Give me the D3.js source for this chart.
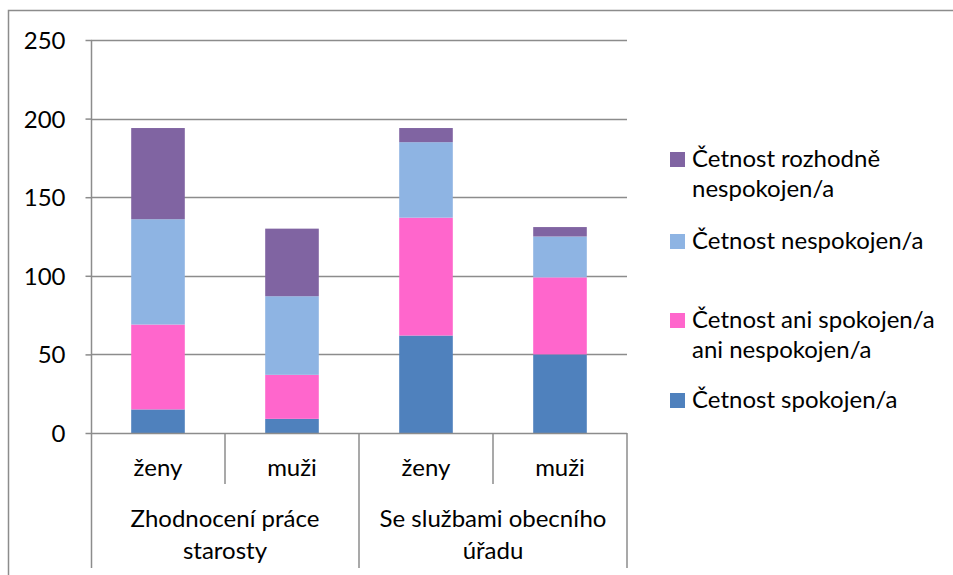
<!DOCTYPE html>
<meta charset="utf-8">
<title>Četnost spokojenosti</title>
<style>
    body { margin: 0; background: #fff; }
    text { font-family: Lato, "Open Sans", sans-serif; fill: #000; }
</style>

<body>
    <script src="https://d3js.org/d3.v7.min.js" charset="utf-8"></script>
    <script>
        // data
        var groups = ["Zhodnocení práce starosty", "Se službami obecního úřadu"];
        var genders = ["ženy", "muži"];
        var series = ["Četnost spokojen/a", "Četnost ani spokojen/a ani nespokojen/a",
            "Četnost nespokojen/a", "Četnost rozhodně nespokojen/a"];
        var spokojen = [15, 9, 62, 50];
        var ani = [54, 28, 75, 49];
        var nespokojen = [67, 50, 48, 26];
        var rozhodne = [58, 43, 9, 6];
        var yTicks = [0, 50, 100, 150, 200, 250];

        var colors = ["#4f81bd", "#ff66cc", "#8eb4e3", "#8064a2"];

        // legend label lines (top to bottom)
        var legendLines = [
            ["Četnost rozhodně", "nespokojen/a"],
            ["Četnost nespokojen/a"],
            ["Četnost ani spokojen/a", "ani nespokojen/a"],
            ["Četnost spokojen/a"]
        ];
        var groupLines = [["Zhodnocení práce", "starosty"], ["Se službami obecního", "úřadu"]];

        var width = 953,
            height = 575,
            fontSize = "24px",
            gridColor = "#8c8c8c";

        var svg = d3.select("body").append("svg")
            .attr("width", width)
            .attr("height", height);

        // outer chart border (only top and left edges show)
        svg.append("path")
            .attr("d", "M8.5 " + height + " L8.5 10.5 L" + width + " 10.5")
            .style("fill", "none")
            .style("stroke", gridColor)
            .style("stroke-width", 1.5);

        var plotLeft = 91, plotRight = 627, plotTop = 40, zero = 433, axisBottom = 568;

        var rows = [];
        groups.forEach(function (grp, gi) {
            genders.forEach(function (gen, si) {
                var k = gi * 2 + si;
                rows.push({
                    key: grp + "|" + gen, gender: gen, group: grp,
                    s0: spokojen[k], s1: ani[k], s2: nespokojen[k], s3: rozhodne[k]
                });
            });
        });

        var x = d3.scaleBand()
            .domain(rows.map(function (d) { return d.key; }))
            .range([plotLeft, plotRight])
            .paddingInner(0.6)
            .paddingOuter(0.3);

        var y = d3.scaleLinear()
            .domain([0, 250])
            .range([zero, plotTop]);

        // gridlines
        svg.append("g").selectAll("line")
            .data(yTicks.slice(1))
            .enter().append("line")
            .attr("x1", plotLeft).attr("x2", plotRight)
            .attr("y1", function (d) { return Math.round(y(d)) + 0.5; })
            .attr("y2", function (d) { return Math.round(y(d)) + 0.5; })
            .style("stroke", gridColor)
            .style("stroke-width", 1.5);

        // stacked bars
        var stack = d3.stack().keys(["s0", "s1", "s2", "s3"])(rows);
        svg.append("g").selectAll("g")
            .data(stack)
            .enter().append("g")
            .style("fill", function (d, i) { return colors[i]; })
            .selectAll("rect")
            .data(function (d) { return d; })
            .enter().append("rect")
            .attr("x", function (d) { return x(d.data.key); })
            .attr("width", x.bandwidth())
            .attr("y", function (d) { return y(d[1]); })
            .attr("height", function (d) { return y(d[0]) - y(d[1]); });

        // y axis
        var yAxis = d3.axisLeft(y)
            .tickValues(yTicks)
            .tickSize(6)
            .tickPadding(20);
        var gy = svg.append("g")
            .attr("transform", "translate(" + (plotLeft + 0.5) + ",0)")
            .call(yAxis);
        gy.select(".domain").remove();
        gy.selectAll(".tick line").style("stroke", gridColor).style("stroke-width", 1.5);
        gy.selectAll("text")
            .style("font-size", fontSize)
            .style("font-family", "Lato, sans-serif")
            .attr("dy", "0.35em");
        gy.append("line")
            .attr("y1", plotTop).attr("y2", axisBottom)
            .style("stroke", gridColor).style("stroke-width", 1.5);

        // category axis
        var cat = svg.append("g");
        cat.append("line")
            .attr("x1", plotLeft).attr("x2", plotRight)
            .attr("y1", zero + 0.5).attr("y2", zero + 0.5)
            .style("stroke", gridColor).style("stroke-width", 1.5);

        var step = x.step();
        var gScale = d3.scaleBand().domain(groups).range([plotLeft, plotRight]);

        // separators: short between genders, long between groups
        cat.selectAll(".sep")
            .data(rows)
            .enter().append("line")
            .attr("x1", function (d) { return x(d.key) + x.bandwidth() / 2 + step / 2; })
            .attr("x2", function (d) { return x(d.key) + x.bandwidth() / 2 + step / 2; })
            .attr("y1", zero).attr("y2", function (d, i) { return i % 2 === 0 ? 484 : axisBottom; })
            .style("stroke", gridColor).style("stroke-width", 1.5);

        cat.selectAll(".gen")
            .data(rows)
            .enter().append("text")
            .attr("x", function (d) { return x(d.key) + x.bandwidth() / 2; })
            .attr("y", 468)
            .attr("dy", "0.35em")
            .attr("text-anchor", "middle")
            .style("font-size", fontSize)
            .text(function (d) { return d.gender; });

        groups.forEach(function (grp, gi) {
            var t = cat.append("text")
                .attr("text-anchor", "middle")
                .style("font-size", fontSize);
            groupLines[gi].forEach(function (ln, li) {
                t.append("tspan")
                    .attr("x", gScale(grp) + gScale.bandwidth() / 2)
                    .attr("y", 519 + li * 32)
                    .attr("dy", "0.35em")
                    .text(ln);
            });
        });

        // legend
        var legY = [159, 241, 320, 400];
        var legend = svg.append("g");
        legendLines.forEach(function (lines, i) {
            var g = legend.append("g").attr("transform", "translate(670," + legY[i] + ")");
            g.append("rect")
                .attr("x", 0).attr("y", -7)
                .attr("width", 15).attr("height", 15)
                .style("fill", colors[3 - i]);
            lines.forEach(function (ln, li) {
                g.append("text")
                    .attr("x", 22)
                    .attr("y", li * 30)
                    .attr("dy", "0.35em")
                    .style("font-size", fontSize)
                    .text(ln);
            });
        });
    </script>
</body>
